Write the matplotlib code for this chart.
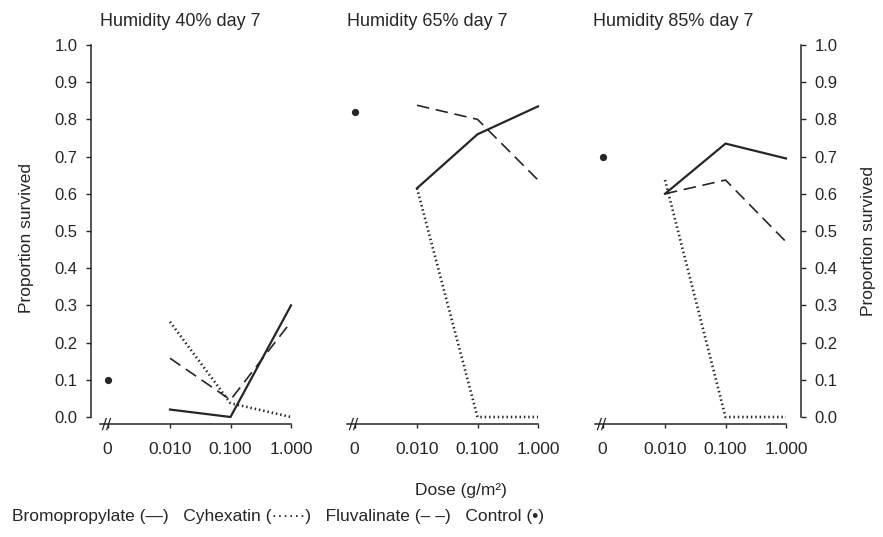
"""Survival of mites versus acaricide dose at three humidity levels (day 7)."""

from matplotlib.axes import Axes
import matplotlib.pyplot as plt

plt.rcParams["font.family"] = ["Liberation Sans", "DejaVu Sans"]

FIG_W, FIG_H = 883, 537
"""Figure size in pixels (dpi 100)."""
INK = "#262626"
"""Colour of lines, text and axes."""

# Data
dose_labels = ["0", "0.010", "0.100", "1.000"]
titles = ["Humidity 40% day 7", "Humidity 65% day 7", "Humidity 85% day 7"]
control = [0.10, 0.82, 0.70]
bromopropylate = [
    [0.02, 0.00, 0.30],
    [0.615, 0.76, 0.835],
    [0.60, 0.735, 0.695],
]
cyhexatin = [
    [0.256, 0.037, 0.00],
    [0.615, 0.00, 0.00],
    [0.637, 0.00, 0.00],
]
fluvalinate = [
    [0.158, 0.046, 0.256],
    [0.838, 0.80, 0.637],
    [0.60, 0.637, 0.471],
]

# Layout (pixels)
DOSE_POS = [0, 1, 2]
"""Positions of the three doses on the x axis."""
CONTROL_POS = -1.03
"""Position of the untreated control, left of the axis break."""
XLIM = (-1.31, 2.25)
YLIM = (-0.03, 1.02)
PX_PER_UNIT = 60.5
first_dose_px = [170, 417, 665]


def _px_axes(fig, left_px: float) -> Axes:
    """Add an axes whose x-data origin lands on the given pixel column."""
    width = (XLIM[1] - XLIM[0]) * PX_PER_UNIT
    x0 = left_px + XLIM[0] * PX_PER_UNIT
    bottom = 417 - YLIM[0] * 372
    height = (YLIM[1] - YLIM[0]) * 372
    return fig.add_axes(
        [x0 / FIG_W, (FIG_H - bottom) / FIG_H, width / FIG_W, height / FIG_H]
    )


def _style_axes(axis: Axes, side: str | None) -> None:
    """Strip the frame down to a broken dose axis and an optional y axis."""
    axis.set_xlim(*XLIM)
    axis.set_ylim(*YLIM)
    for name in ("top", "right", "left"):
        axis.spines[name].set_visible(False)
    bottom = axis.spines["bottom"]
    bottom.set_position(("data", -0.019))
    bottom.set_bounds(CONTROL_POS - 0.12, DOSE_POS[-1])
    bottom.set_color(INK)
    bottom.set_linewidth(1.1)
    axis.set_xticks([CONTROL_POS] + DOSE_POS)
    axis.set_xticklabels(dose_labels)
    axis.tick_params(axis="x", length=3.2, width=1.0, color=INK, pad=10,
                     labelsize=12.5, labelcolor=INK)

    # Axis break marks on the dose axis
    for dx in (-0.035, 0.035):
        axis.plot(
            [CONTROL_POS - 0.05 + dx, CONTROL_POS + 0.01 + dx],
            [-0.034, -0.004],
            color=INK, lw=0.9, clip_on=False,
        )

    if side is None:
        axis.set_yticks([])
        return
    spine = axis.spines[side]
    spine.set_visible(True)
    spine.set_bounds(0, 1)
    spine.set_color(INK)
    spine.set_linewidth(1.1)
    axis.set_yticks([i / 10 for i in range(11)])
    axis.set_yticklabels([f"{i / 10:.1f}" for i in range(11)])
    axis.yaxis.set_ticks_position(side)
    axis.tick_params(axis="y", length=3.6, width=1.0, color=INK, pad=6,
                     labelsize=12, labelcolor=INK)


fig = plt.figure(figsize=(FIG_W / 100, FIG_H / 100), dpi=100)
sides = ["left", None, "right"]
title_px = [100, 347, 593]

for i in range(3):
    ax = _px_axes(fig, first_dose_px[i])
    _style_axes(ax, sides[i])
    ax.plot(DOSE_POS, bromopropylate[i], color=INK, lw=1.6, solid_joinstyle="miter")
    ax.plot(DOSE_POS, cyhexatin[i], color=INK, lw=1.9, linestyle=(0, (0.55, 1.1)))
    ax.plot(DOSE_POS, fluvalinate[i], color=INK, lw=1.2, linestyle=(0, (7.5, 4)))
    ax.plot([CONTROL_POS], [control[i]], "o", color=INK, ms=4.2)
    fig.text(title_px[i] / FIG_W, 1 - 21 / FIG_H, titles[i], fontsize=13,
             color=INK, ha="left", va="center")

fig.text(27 / FIG_W, 1 - 238 / FIG_H, "Proportion survived", rotation=90,
         fontsize=12.5, color=INK, ha="center", va="center")
fig.text(868 / FIG_W, 1 - 241 / FIG_H, "Proportion survived", rotation=90,
         fontsize=12.5, color=INK, ha="center", va="center")
fig.text(461 / FIG_W, 1 - 490 / FIG_H, "Dose (g/m\u00b2)", fontsize=12.5,
         color=INK, ha="center", va="center")
fig.text(12 / FIG_W, 1 - 517 / FIG_H,
         "Bromopropylate (\u2014)   Cyhexatin (\u00b7\u00b7\u00b7\u00b7\u00b7\u00b7)   "
         "Fluvalinate (\u2013 \u2013)   Control (\u2022)",
         fontsize=12.5, color=INK, ha="left", va="center")

fig.savefig("out.png", dpi=100)
